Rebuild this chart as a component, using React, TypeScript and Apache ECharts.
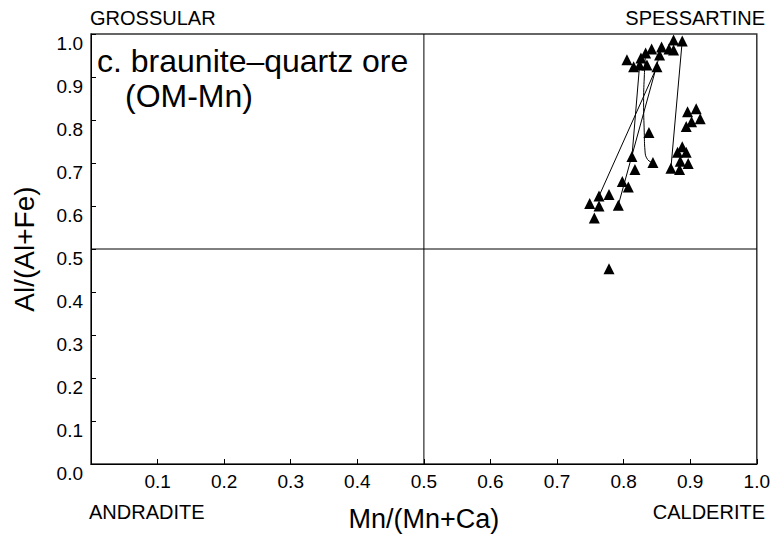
import React, { useEffect, useRef } from "react";
import * as echarts from "echarts";

// Mn/(Mn+Ca) , Al/(Al+Fe)
const topCluster: [number, number][] = [
  [0.805, 0.94], [0.815, 0.924], [0.824, 0.928], [0.826, 0.944], [0.833, 0.956],
  [0.835, 0.928], [0.842, 0.965], [0.85, 0.924], [0.854, 0.951], [0.857, 0.97],
  [0.868, 0.965], [0.875, 0.963], [0.875, 0.986], [0.888, 0.984],
];
const rightCluster: [number, number][] = [
  [0.896, 0.819], [0.909, 0.826], [0.902, 0.796], [0.915, 0.803], [0.894, 0.785],
  [0.888, 0.738], [0.881, 0.725], [0.894, 0.725], [0.885, 0.704], [0.897, 0.699],
  [0.871, 0.688], [0.884, 0.685],
];
const middleCluster: [number, number][] = [
  [0.838, 0.771], [0.844, 0.701], [0.8125, 0.715], [0.817, 0.685], [0.798, 0.657],
  [0.807, 0.644], [0.778, 0.627], [0.763, 0.623], [0.749, 0.606], [0.763, 0.6],
  [0.792, 0.602], [0.756, 0.572],
];
const outliers: [number, number][] = [[0.778, 0.454]];

const traverseA: [number, number][] = [[0.763, 0.623], [0.85, 0.924]];
const traverseB: [number, number][] = [[0.792, 0.602], [0.854, 0.951]];
const traverseC: [number, number][] = [[0.8125, 0.715], [0.824, 0.928]];
const traverseD: [number, number][] = [
  [0.844, 0.701], [0.836, 0.708], [0.832, 0.73], [0.831, 0.77], [0.83, 0.84], [0.831, 0.9], [0.833, 0.956],
];
const traverseE: [number, number][] = [[0.871, 0.688], [0.888, 0.984]];

const vDivider: [number, number][] = [[0.5, 0], [0.5, 1]];
const hDivider: [number, number][] = [[0, 0.5], [1, 0.5]];

const titleLines = ["c. braunite–quartz ore", "(OM-Mn)"];
const cornerLabels = ["GROSSULAR", "SPESSARTINE", "ANDRADITE", "CALDERITE"];
const xName = "Mn/(Mn+Ca)";
const yName = "Al/(Al+Fe)";

const FONT = "'Liberation Sans', Arial, sans-serif";

export default function App() {
  const ref = useRef<HTMLDivElement>(null);
  useEffect(() => {
    if (!ref.current) return;
    const chart = echarts.init(ref.current, null, { renderer: "svg" });
    const lineSeries = (data: [number, number][], smooth = false) => ({
      type: "line",
      data,
      smooth: smooth ? 0.5 : false,
      symbol: "none",
      lineStyle: { color: "#000", width: 1 },
      silent: true,
      z: 2,
    });
    const scatter = (data: [number, number][]) => ({
      type: "scatter",
      data,
      symbol: "triangle",
      symbolSize: 11,
      itemStyle: { color: "#000", opacity: 1 },
      z: 3,
    });
    const cornerStyle = { fontFamily: FONT, fontSize: 20, fill: "#000" };
    chart.setOption({
      animation: false,
      backgroundColor: "#fff",
      grid: {
        left: 91, right: 10, top: 34, bottom: 71,
        show: true, borderColor: "#333", borderWidth: 1.5, backgroundColor: "transparent",
      },
      xAxis: {
        type: "value", min: 0, max: 1, interval: 0.1,
        name: xName, nameLocation: "middle", nameGap: 41,
        nameTextStyle: { fontFamily: FONT, fontSize: 27, color: "#000" },
        axisLine: { show: true, lineStyle: { color: "#000", width: 1 } },
        axisTick: { show: true, inside: true, length: 5, lineStyle: { color: "#000" } },
        axisLabel: {
          fontFamily: FONT, fontSize: 19, color: "#000", margin: 8,
          formatter: (v: number) => (v === 0 ? "" : v.toFixed(1)),
        },
        splitLine: { show: false },
      },
      yAxis: {
        type: "value", min: 0, max: 1, interval: 0.1,
        name: yName, nameLocation: "middle", nameGap: 53,
        nameTextStyle: { fontFamily: FONT, fontSize: 28, color: "#000" },
        axisLine: { show: true, lineStyle: { color: "#000", width: 1 } },
        axisTick: { show: true, inside: true, length: 5, lineStyle: { color: "#000" } },
        axisLabel: {
          fontFamily: FONT, fontSize: 19, color: "#000", margin: 8, verticalAlign: "top",
          formatter: (v: number) => v.toFixed(1),
        },
        splitLine: { show: false },
      },
      series: [
        lineSeries(vDivider),
        lineSeries(hDivider),
        lineSeries(traverseA),
        lineSeries(traverseB),
        lineSeries(traverseC),
        lineSeries(traverseD, true),
        lineSeries(traverseE),
        scatter(topCluster),
        scatter(rightCluster),
        scatter(middleCluster),
        scatter(outliers),
      ],
      graphic: [
        { type: "text", left: 90, top: 8, style: { ...cornerStyle, text: cornerLabels[0] } },
        { type: "text", right: 8, top: 8, style: { ...cornerStyle, text: cornerLabels[1] } },
        { type: "text", left: 89, top: 502, style: { ...cornerStyle, text: cornerLabels[2] } },
        { type: "text", right: 8, top: 502, style: { ...cornerStyle, text: cornerLabels[3] } },
        { type: "text", left: 97, top: 45, style: { fontFamily: FONT, fontSize: 32, fill: "#000", text: titleLines[0] } },
        { type: "text", left: 125, top: 80, style: { fontFamily: FONT, fontSize: 32, fill: "#000", text: titleLines[1] } },
      ],
    });
    return () => chart.dispose();
  }, []);
  return (
    <div
      ref={ref}
      style={{ position: "fixed", left: 0, top: 0, width: 773, height: 537, background: "#fff" }}
    />
  );
}
